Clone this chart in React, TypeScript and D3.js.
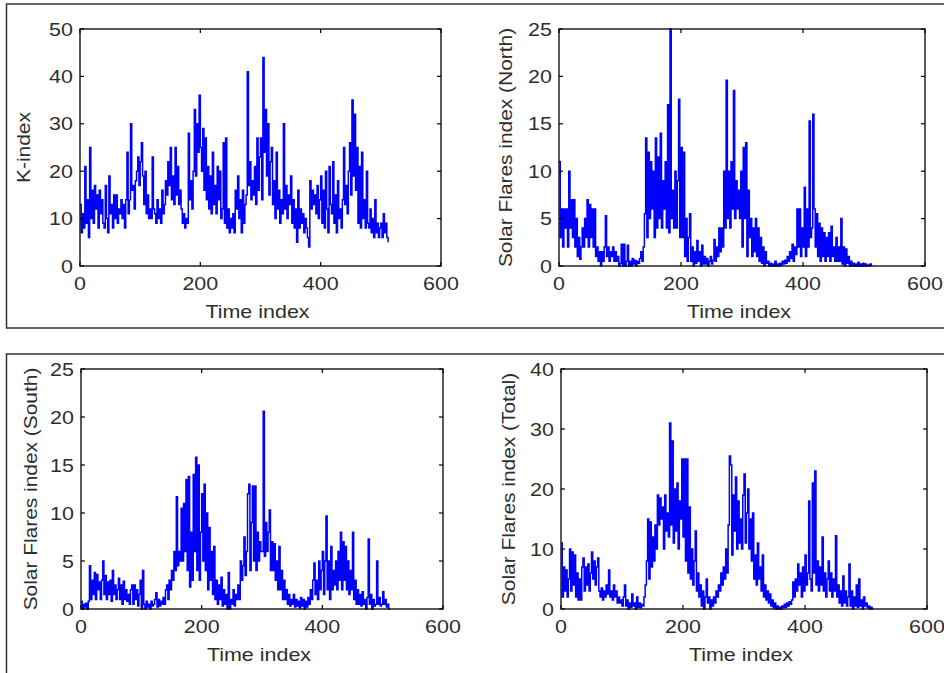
import React from 'react';
import * as d3 from 'd3';

// time step between consecutive samples (time index units)
const T_STEP = 2;

const kIndex = [
  13, 7, 11, 8, 21, 9, 14, 6, 25, 10,
  16, 9, 17, 12, 15, 8, 16, 11, 14, 9,
  8, 17, 10, 7, 19, 11, 13, 8, 15, 10,
  15, 9, 12, 11, 14, 10, 13, 8, 14, 24,
  11, 14, 30, 16, 17, 12, 18, 20, 23, 17,
  22, 26, 19, 13, 20, 11, 15, 10, 12, 10,
  23, 12, 11, 9, 14, 10, 12, 9, 16, 11,
  13, 18, 15, 22, 17, 25, 14, 19, 13, 25,
  15, 21, 13, 16, 12, 9, 11, 8, 10, 9,
  28, 14, 18, 12, 20, 33, 19, 30, 24, 36,
  25, 20, 29, 16, 27, 14, 21, 12, 19, 11,
  24, 13, 17, 11, 21, 14, 20, 10, 12, 26,
  9, 27, 8, 12, 7, 10, 8, 11, 7, 16,
  12, 19, 10, 14, 7, 16, 9, 13, 15, 41,
  17, 22, 14, 18, 15, 21, 13, 27, 16, 23,
  27, 14, 44, 24, 33, 19, 30, 15, 22, 25,
  13, 18, 10, 24, 12, 16, 9, 14, 11, 30,
  12, 17, 10, 15, 13, 19, 9, 14, 8, 12,
  5, 16, 8, 12, 9, 11, 7, 10, 8, 6,
  4, 18, 12, 16, 13, 15, 11, 17, 10, 14,
  19, 9, 16, 8, 20, 12, 7, 21, 13, 11,
  22, 9, 15, 7, 18, 10, 12, 8, 14, 25,
  13, 17, 11, 20, 26, 15, 35, 19, 32, 16,
  25, 9, 21, 8, 24, 10, 14, 8, 20, 9,
  8, 12, 7, 10, 6, 14, 7, 9, 6, 8,
  9, 6, 11, 7, 9, 6, 5,
];

const flaresNorth = [
  11, 3, 6, 2, 6, 4, 6, 2, 10, 4,
  7, 3, 7, 2, 5, 1, 3, 0.7, 2, 4,
  2, 5, 3, 7, 2, 6.5, 3, 6, 2, 6,
  1, 2, 0.5, 1.5, 0, 1.5, 0.5, 2, 5.3, 1,
  2, 0.5, 1.5, 1, 2, 0.5, 1.5, 0.5, 1, 0,
  0.3, 2.3, 0, 2.3, 0, 0.5, 2.2, 0, 0.5, 0,
  0.8, 0.2, 0.6, 0, 0.5, 0.3, 0.8, 1.5, 0.5, 2,
  5.5, 13.5, 3, 12, 5, 11, 6, 10, 3, 13.5,
  4, 11.5, 5, 14, 4, 9, 6, 11, 4, 17,
  3.5, 25, 5, 8, 4, 10, 4, 9, 17.6, 3,
  12.5, 3, 12, 1, 5, 0.5, 3, 5.5, 0.5, 2,
  0, 1.5, 0.3, 2.7, 0.5, 1.5, 0, 2.2, 0.2, 1,
  0.2, 0.8, 0, 0.5, 1, 0.2, 0.6, 2.8, 0.5, 2,
  1, 4, 1.5, 4, 2, 10, 4, 19.6, 5, 10,
  4, 11, 6, 18.5, 5, 9, 6, 8, 5, 10,
  2, 12.5, 5, 13, 1, 8, 3, 5, 1, 4,
  1.5, 5, 1, 4, 0.5, 3, 0.3, 2, 0, 1.5,
  0.3, 0.5, 0, 0.3, 0, 0.2, 0, 0.5, 0, 0.2,
  0, 0.3, 0.1, 0.5, 0.2, 0.6, 0.3, 1, 0.5, 1.5,
  0.8, 2.3, 0.5, 2, 1.2, 6, 2, 6, 1, 4,
  2, 8.3, 1, 6, 2, 15.3, 3, 4, 16, 6,
  2, 5.5, 1, 4.5, 0.5, 4, 1, 3.5, 0.5, 3,
  1, 3.5, 0.5, 4.2, 1, 2, 0.5, 3, 0.5, 2,
  0.5, 5, 0.2, 2, 0, 1.8, 0.3, 1, 0, 0.5,
  0, 0.3, 0, 0.2, 0, 0.4, 0, 0.2, 0, 0.3,
  0, 0.2, 0, 0.1, 0, 0.2, 0,
];

const flaresSouth = [
  0.8, 0, 0.5, 0.2, 0.6, 0, 0.8, 4.5, 1, 3,
  1.5, 3.8, 1, 3.6, 2, 2.8, 1, 3, 5, 1.5,
  3.5, 1, 2.8, 1.5, 3, 0.8, 4, 1.5, 2.5, 1,
  2, 3.2, 1, 2.5, 0.5, 2.9, 1, 2, 0.8, 1.5,
  0.5, 2, 2.5, 0.5, 2.5, 1, 2, 0.3, 1.5, 3,
  0, 4, 0.5, 0, 0.8, 0.2, 0.5, 0, 0.8, 0.3,
  0.5, 1, 1.7, 0.2, 1, 0.3, 0.8, 0.5, 1.2, 0.5,
  2, 2.5, 1, 3, 2, 4, 3, 6, 4, 11.7,
  4.5, 6, 5, 10.5, 5, 11, 6, 13.5, 4, 13.8,
  2.3, 8, 3, 14, 6, 15.8, 4, 15, 3, 8,
  12, 5, 13, 4, 10, 2, 8.5, 3, 6, 1.5,
  6.5, 1, 3, 0.5, 2.5, 1, 3.3, 0.3, 2, 0.5,
  1.5, 0, 3.8, 0, 1, 0.5, 2, 0.3, 1.5, 1,
  2.5, 1, 5, 3, 4.5, 7.5, 3.5, 6, 12, 13,
  4, 9, 12.8, 5, 12.8, 4, 8, 5, 7, 6,
  6, 20.6, 5.5, 9, 6, 8, 10.3, 4, 7, 4,
  6.8, 3, 5, 2, 6.5, 2, 4, 1, 3, 1,
  2, 0.5, 1.5, 0.3, 1, 0.5, 1.5, 0.2, 1, 0.3,
  0.8, 0.1, 1.2, 0.3, 1, 0, 0.8, 0.2, 1.2, 0.5,
  2, 1, 3, 4.8, 1.5, 3, 1, 5, 2, 4,
  6, 1.5, 5, 9.7, 2, 5, 1, 6.5, 2, 4,
  2.5, 5, 2, 6, 3, 8, 2, 7, 3, 6.5,
  2, 5, 1.5, 4, 2, 8, 1, 3, 0.5, 2,
  0.5, 1.5, 0.3, 1.8, 0.5, 1, 0, 1.2, 7.3, 0.5,
  1.5, 0, 1, 0.3, 0.5, 5, 0.5, 1.2, 0.3, 0.5,
  1.8, 0.5, 1, 0.2, 0.5, 0, 0,
];

const flaresTotal = [
  11, 2, 7, 3, 6.5, 2, 5, 10, 3, 9.5,
  4, 9, 2, 6, 1.5, 5, 1.5, 7, 8.5, 3,
  7, 4, 7.5, 3, 6, 9.5, 5, 8, 4, 7,
  8.5, 3, 2, 3.5, 1.5, 3, 2, 4, 2.5, 6.5,
  2, 3, 1.5, 4, 2, 3, 1, 2, 1, 1.5,
  0.5, 2, 4, 0.5, 1.5, 0, 1, 0.3, 2.5, 0.5,
  1, 0, 2, 0.3, 1, 0.2, 0.8, 0.5, 2, 4,
  8, 15, 5, 14.5, 7, 12, 8, 14, 10, 19,
  14, 18.5, 15, 17, 10, 19, 13, 16, 12, 31,
  14, 28, 11, 20, 13, 21, 10, 18, 15, 25,
  12, 25, 8, 25, 6, 17, 5, 10, 4, 8,
  13, 3, 6, 2, 4, 0.5, 3, 0, 2, 5,
  1, 2, 0, 1.5, 0.5, 2, 1, 3, 2, 4,
  3, 6, 4, 7, 5, 10, 6, 14, 25.5, 24,
  9, 19, 13, 22, 10, 18, 11, 15, 10, 19,
  22.5, 11, 16, 20, 10, 15, 8, 16, 5, 9,
  4, 11, 5, 7, 3, 9, 2, 4, 1.5, 3,
  1, 2.5, 0.5, 1.5, 0.2, 1, 0, 0.5, 0, 0.3,
  0, 0.5, 0.2, 0.8, 0.3, 1, 0.5, 1.2, 0.8, 1.5,
  4.5, 2, 5, 3, 7.5, 4, 6, 2, 7, 3,
  9, 4, 6, 18, 5, 3, 21, 6, 23, 4,
  8, 3, 7, 4, 12, 3, 6, 2, 5, 8,
  3, 6, 2, 5, 3, 12.2, 2, 4, 1, 3,
  0.5, 5.5, 1, 3, 0.5, 2, 7.5, 0.5, 3, 0,
  2, 0.5, 4, 0.3, 5, 0.5, 1.5, 0, 2, 0.5,
  1, 0.2, 0.5, 0, 0.3, 0, 0,
];

const xTickValues = [0, 200, 400, 600];
const kTicks = [0, 10, 20, 30, 40, 50];
const flareTicks = [0, 5, 10, 15, 20, 25];
const totalTicks = [0, 10, 20, 30, 40];
const xLabel = 'Time index';
const yLabels = [
  'K-index',
  'Solar Flares index (North)',
  'Solar Flares index (South)',
  'Solar Flares index (Total)',
];

const FONT = '"Liberation Sans", Arial, Helvetica, sans-serif';
const TEXT_FILL = '#2e2e2e';
const FS = 19;
const SX = 1.13;

type PanelProps = {
  left: number; top: number; right: number; bottom: number;
  values: number[]; yMax: number; yTicks: number[];
  yLabel: string; yLabelGap: number;
};

function Panel({ left, top, right, bottom, values, yMax, yTicks, yLabel, yLabelGap }: PanelProps) {
  const x = d3.scaleLinear().domain([0, 600]).range([left, right]);
  const y = d3.scaleLinear().domain([0, yMax]).range([bottom, top]);
  const line = d3.line<number>().x((_, i) => x(i * T_STEP)).y((d) => y(d)).curve(d3.curveStepAfter);
  const tl = 4;
  return (
    <g>
      <path d={line(values) || ''} fill="none" stroke="#0000ff" strokeWidth={1.5} strokeLinejoin="miter" />
      <rect x={left} y={top} width={right - left} height={bottom - top} fill="none" stroke="#000" strokeWidth={1.3} />
      {xTickValues.map((t) => (
        <g key={'xt' + t}>
          <line x1={x(t)} x2={x(t)} y1={bottom} y2={bottom - tl} stroke="#000" strokeWidth={1.2} />
          <line x1={x(t)} x2={x(t)} y1={top} y2={top + tl} stroke="#000" strokeWidth={1.2} />
          <text transform={`translate(${x(t)},${bottom + 24}) scale(${SX},1)`} textAnchor="middle"
            fontFamily={FONT} fontSize={FS} fill={TEXT_FILL}>{t}</text>
        </g>
      ))}
      {yTicks.map((v) => (
        <g key={'yt' + v}>
          <line x1={left} x2={left + tl} y1={y(v)} y2={y(v)} stroke="#000" strokeWidth={1.2} />
          <line x1={right} x2={right - tl} y1={y(v)} y2={y(v)} stroke="#000" strokeWidth={1.2} />
          <text transform={`translate(${left - 7},${y(v) + 6.5}) scale(${SX},1)`} textAnchor="end"
            fontFamily={FONT} fontSize={FS} fill={TEXT_FILL}>{v}</text>
        </g>
      ))}
      <text transform={`translate(${(left + right) / 2 - 3},${bottom + 52}) scale(${SX},1)`} textAnchor="middle"
        fontFamily={FONT} fontSize={FS} fill={TEXT_FILL}>{xLabel}</text>
      <text transform={`translate(${left - yLabelGap},${(top + bottom) / 2}) rotate(-90) scale(1.1,1)`} textAnchor="middle"
        fontFamily={FONT} fontSize={FS} fill={TEXT_FILL}>{yLabel}</text>
    </g>
  );
}

export default function App() {
  return (
    <svg width={944} height={673} viewBox="0 0 944 673"
      style={{ position: 'absolute', left: 0, top: 0, background: '#fff' }}>
      <rect x={0} y={0} width={944} height={673} fill="#fff" />
      <rect x={6.5} y={4} width={960} height={324} fill="none" stroke="#333" strokeWidth={1.5} />
      <rect x={6.5} y={354} width={960} height={400} fill="none" stroke="#333" strokeWidth={1.5} />
      <Panel left={80} top={29} right={441} bottom={266} values={kIndex} yMax={50} yTicks={kTicks}
        yLabel={yLabels[0]} yLabelGap={50} />
      <Panel left={559} top={29} right={925} bottom={266} values={flaresNorth} yMax={25} yTicks={flareTicks}
        yLabel={yLabels[1]} yLabelGap={47} />
      <Panel left={81} top={369} right={443} bottom={609} values={flaresSouth} yMax={25} yTicks={flareTicks}
        yLabel={yLabels[2]} yLabelGap={44} />
      <Panel left={561} top={369} right={927} bottom={609} values={flaresTotal} yMax={40} yTicks={totalTicks}
        yLabel={yLabels[3]} yLabelGap={46} />
    </svg>
  );
}
